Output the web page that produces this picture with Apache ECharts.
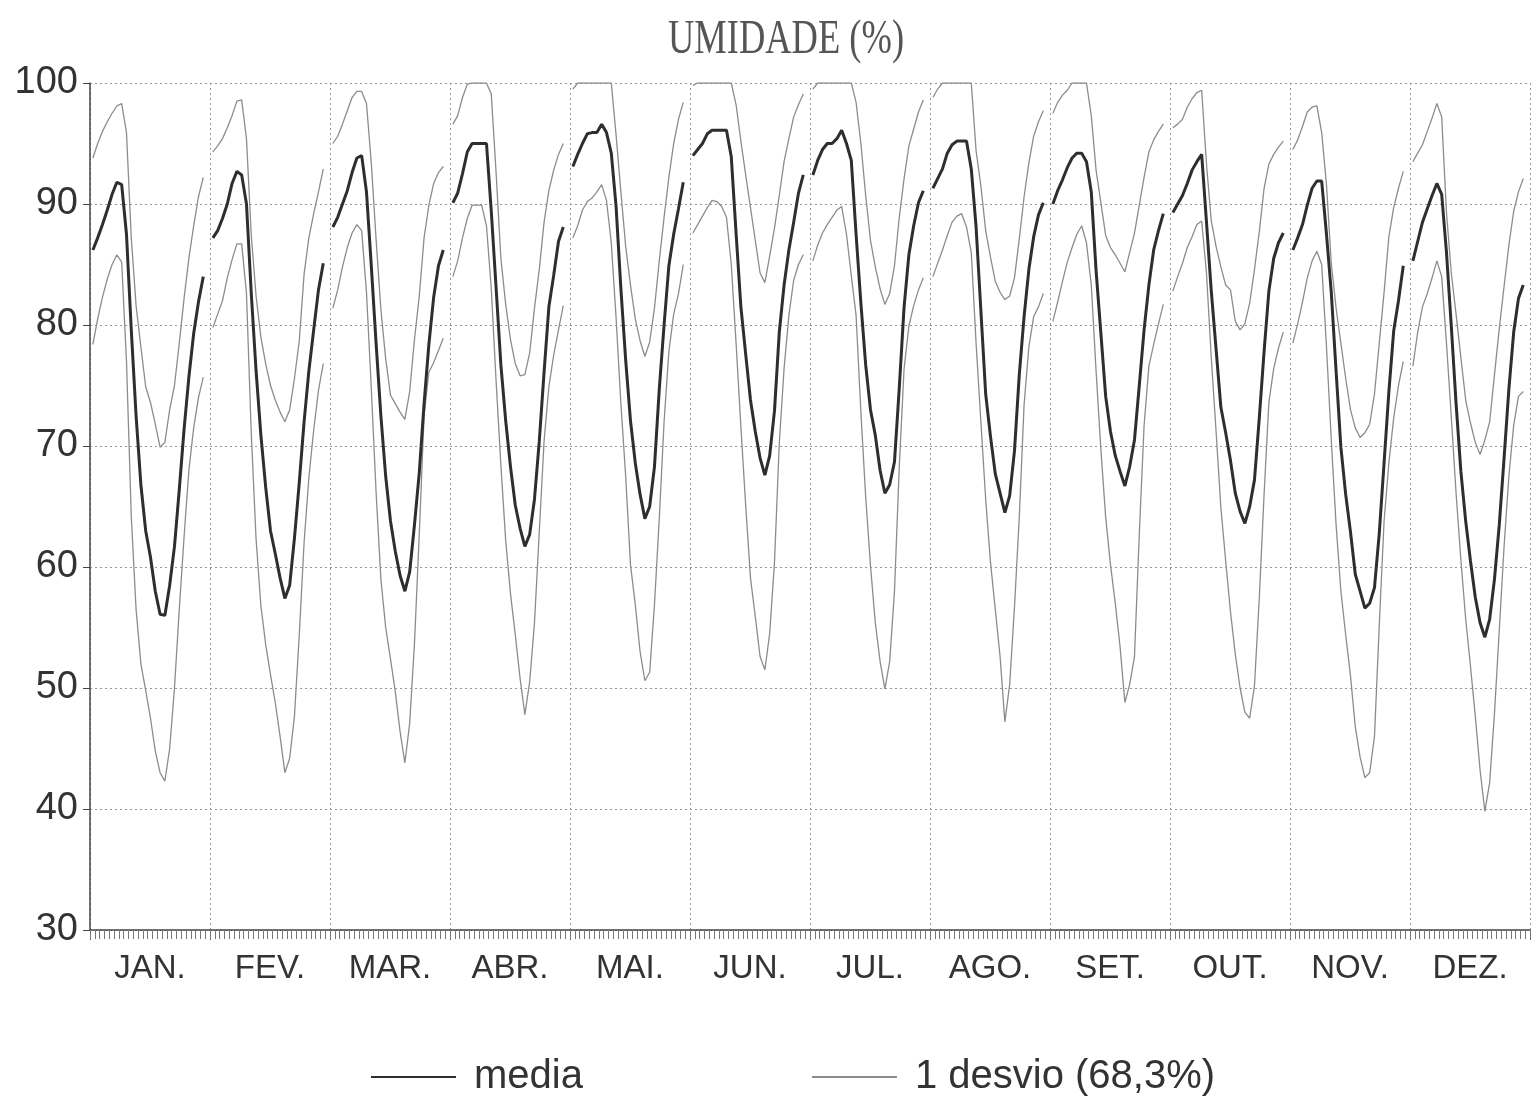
<!DOCTYPE html>
<html>
<head>
<meta charset="utf-8">
<title>UMIDADE (%)</title>
<script src="https://cdn.jsdelivr.net/npm/echarts@6/dist/echarts.min.js"></script>
<style>
  html, body { margin: 0; padding: 0; background: #fff; }
  #chart { width: 1536px; height: 1098px; }
</style>
</head>
<body>
<div id="chart"></div>
<script>
  // meses (cada mes = ciclo diario de 24 horas)
  const meses = ['JAN.', 'FEV.', 'MAR.', 'ABR.', 'MAI.', 'JUN.', 'JUL.', 'AGO.', 'SET.', 'OUT.', 'NOV.', 'DEZ.']

  // umidade media, hora 0..23 de cada mes
  const media = [
    86.2,87.2,88.3,89.5,90.8,91.8,91.6,87.5,79.6,72.5,66.8,63,60.8,58,56.1,56,58.5,61.7,66.4,71.4,75.7,79.3,81.9,84,
    87.2,87.8,88.8,90,91.7,92.7,92.4,90,82.6,76.2,70.9,66.6,63,61.1,59.1,57.4,58.5,62.4,67,72,76.2,79.6,82.9,85.1,
    88.1,88.9,90,91.1,92.6,93.8,94,91,84.9,78.5,72.5,67.5,63.8,61.3,59.3,58,59.6,63.5,67.8,73.5,78.4,82.3,84.9,86.2,
    90.1,90.9,92.5,94.3,95,95,95,95,89.4,83.1,76.7,72.1,68.3,65.1,63.2,61.7,62.7,65.6,70.4,76.1,81.5,84.1,86.9,88.1,
    93.1,94.1,95,95.8,95.9,95.9,96.6,95.9,94.2,89.8,83,77.1,72.1,68.6,66,64,65,68.3,74.7,80,84.9,87.5,89.6,91.8,
    94,94.5,95,95.8,96.1,96.1,96.1,96.1,93.9,87.6,81.5,77.6,73.8,71.2,69,67.6,69.2,72.9,79.4,83.3,86.2,88.5,90.9,92.4,
    92.4,93.6,94.5,95,95,95.4,96.1,95,93.6,87.5,81.8,76.7,73,70.9,68,66.1,66.8,68.7,74.8,81.5,85.8,88.2,90.1,91.1,
    91.3,92.1,92.9,94.2,94.9,95.2,95.2,95.2,92.9,88.1,81.2,74.3,70.8,67.7,66.1,64.5,65.9,69.6,75.9,80.7,84.6,87.3,89.1,90.1,
    90,91.1,92,93,93.8,94.2,94.2,93.5,91,84.5,79.3,74.1,71.2,69.2,67.9,66.7,68.3,70.5,75,79.6,83.3,86.2,87.8,89.2,
    89.3,90,90.7,91.7,92.8,93.5,94.1,88.5,82.8,78,73.2,71.1,68.8,66.1,64.6,63.6,65,67.2,72.3,77.8,82.8,85.5,86.8,87.6,
    86.2,87.2,88.3,89.9,91.3,91.9,91.9,87.5,82.7,76.2,69.9,66,62.9,59.4,58,56.6,57,58.3,62.8,68.6,74.5,79.5,82,84.9,
    85.3,86.9,88.5,89.6,90.7,91.7,90.8,86,79.9,73.5,67.9,63.8,60.5,57.5,55.4,54.2,55.7,59,63.5,69,74.7,79.4,82.2,83.3
  ]

  // media + 1 desvio
  const desvioSup = [
    93.8,95,96,96.8,97.5,98.1,98.3,95.9,87.2,81.6,78.2,74.9,73.6,71.8,69.9,70.3,73,75,78.5,82.2,85.5,88.2,90.6,92.2,
    94.3,94.8,95.4,96.3,97.3,98.5,98.6,95.4,87.4,82.4,79,76.8,75,73.8,72.8,72,73,75.6,78.7,84.2,87.2,89.2,91,92.9,
    95,95.6,96.6,97.7,98.8,99.3,99.3,98.3,93.4,87.1,81.3,77.2,74.2,73.5,72.8,72.2,74.5,78.8,82.4,87.2,89.9,91.7,92.6,93.1,
    96.6,97.3,98.8,99.9,100,100,100,100,99.1,92.6,85.5,81.7,78.8,76.8,75.8,75.9,77.7,81.4,84.6,88.5,91.1,92.8,94.1,95,
    99.5,100,100,100,100,100,100,100,100,95.7,91,86.5,83.3,80.5,78.7,77.4,78.6,81.4,85.3,88.9,92.2,95,97,98.4,
    99.8,100,100,100,100,100,100,100,100,98.2,95.2,92.4,89.7,87,84.3,83.5,85.7,88,90.7,93.5,95.4,97.2,98.2,99.1,
    99.5,100,100,100,100,100,100,100,100,98.4,95,90.7,87,84.8,83,81.7,82.6,84.9,88.9,92.1,94.8,96.2,97.6,98.6,
    98.8,99.5,100,100,100,100,100,100,100,94.4,91.5,87.8,85.6,83.6,82.7,82.1,82.4,83.9,87.1,90.6,93.4,95.6,96.8,97.7,
    97.5,98.4,99,99.4,100,100,100,100,97.3,92.8,90.1,87.4,86.4,85.8,85.1,84.4,86,87.6,89.9,92.2,94.3,95.3,96,96.6,
    96.3,96.6,97,98,98.7,99.2,99.4,93.3,88.6,86.5,84.8,83.3,82.9,80.3,79.6,80.1,81.8,84.6,87.7,91.3,93.3,94.1,94.7,95.2,
    94.5,95.3,96.4,97.6,98,98.1,95.9,91.6,85.1,81.4,78.5,75.6,73,71.5,70.7,71.1,71.8,74.3,78.5,82.7,87.3,89.7,91.3,92.7,
    93.5,94.2,94.9,96,97.1,98.3,97.2,89.3,84.3,80.9,77.3,73.8,71.9,70.3,69.3,70.5,72,75.9,79.7,83.2,86.6,89.4,91,92.1
  ]

  // media - 1 desvio
  const desvioInf = [
    78.4,80.5,82.3,83.8,85,85.8,85.2,77,64.2,56.5,52,49.8,47.5,44.8,43,42.3,45,50,56.5,62.5,68,71.5,74,75.7,
    79.8,80.9,82,83.9,85.4,86.7,86.7,82.6,71,62.3,56.8,53.6,51.1,48.8,46,43,44.2,47.7,54.4,62,67.4,71.3,74.6,76.8,
    81.4,82.9,84.8,86.4,87.6,88.3,87.8,82.7,74.8,66.2,59,55,52.4,49.7,46.4,43.8,47.1,53.7,62.7,72.5,76.1,76.9,77.9,78.9,
    84,85.3,87.2,88.8,89.9,89.9,89.9,88.2,83,75.4,68.4,62.2,57.8,54.4,50.8,47.8,50.5,55.4,62.9,70.4,74.9,77.5,79.6,81.6,
    87.2,88.2,89.5,90.2,90.5,91,91.6,90.3,86.8,80.6,73.5,67.5,60.2,56.9,53,50.6,51.3,56.9,64,72,77.8,80.9,82.6,85,
    87.6,88.3,89,89.7,90.3,90.2,89.8,88.9,85,78.5,71.6,65.1,59.1,55.9,52.6,51.5,54.5,60.4,70.2,76.4,80.8,83.7,85,85.8,
    85.3,86.6,87.6,88.3,88.9,89.5,89.8,87.5,84.1,80.8,72.8,65.8,60.1,55.4,52.2,49.9,52.2,58,68.3,76.4,79.9,81.6,82.9,83.9,
    84,85.1,86.2,87.4,88.5,89,89.2,88.1,86,78.5,72,65.6,60.4,56.5,52.6,47.2,50.3,56.7,64.1,73.4,78.2,80.7,81.5,82.6,
    80.3,81.9,83.6,85.2,86.4,87.5,88.2,86.8,83.3,76.2,69.7,64.1,60.2,57,53.4,48.8,50.3,52.6,62.7,71.7,76.6,78.4,80.1,81.7,
    82.8,84,85.1,86.4,87.3,88.3,88.6,84.3,77.3,71.2,64.9,60.5,56.3,52.8,50,48,47.5,50.2,57.4,66,73.6,76.4,78.1,79.4,
    78.5,80.1,81.9,83.9,85.3,86.1,85,78.2,70.5,63.5,58,54.4,51,46.8,44.3,42.6,43,46,55.2,63.8,68.6,72.3,75,77,
    76.6,79.4,81.5,82.6,83.9,85.3,84,78.5,72.4,66.1,60.6,55.7,51.8,47.7,43.2,39.8,42.2,47.9,54.8,61.7,67.5,71.7,74.1,74.5
  ]

  const horasPorMes = 24
  const passoMes = 25 // 24 horas + 1 de intervalo entre meses

  // monta pares [x, y], quebrando a linha entre um mes e outro
  function montaSerie(valores) {
    const pts = []
    for (let m = 0; m < meses.length; m++) {
      for (let h = 0; h < horasPorMes; h++) {
        pts.push([m * passoMes + 0.6 + h, valores[m * horasPorMes + h]])
      }
      pts.push([m * passoMes + 24.6, null])
    }
    return pts
  }

  const fonte = "'Liberation Sans', Arial, sans-serif"
  const chart = echarts.init(document.getElementById('chart'))

  const option = {
    backgroundColor: '#fff',
    animation: false,
    graphic: [{
      type: 'text',
      x: 668,
      y: 16,
      scaleX: 0.76,
      style: {
        text: 'UMIDADE (%)',
        font: "48px 'Liberation Serif', serif",
        fill: '#555',
        textAlign: 'left',
        textVerticalAlign: 'top'
      }
    }],
    grid: {
      left: 90,
      right: 6,
      top: 83,
      bottom: 168
    },
    legend: {
      left: 370,
      top: 1057,
      padding: 0,
      itemWidth: 85,
      itemHeight: 2,
      itemGap: 228,
      textStyle: {
        fontFamily: fonte,
        fontSize: 40,
        color: '#333',
        padding: [0, 0, 0, 13]
      },
      data: ['media', '1 desvio (68,3%)']
    },
    xAxis: [
      {
        // meses: linhas verticais pontilhadas
        type: 'value',
        position: 'bottom',
        min: 0,
        max: meses.length * passoMes,
        interval: passoMes,
        axisLine: { show: true, lineStyle: { color: '#444', width: 1.5 } },
        axisTick: { show: true, length: 10, lineStyle: { color: '#555' } },
        axisLabel: { show: false },
        splitLine: { show: true, lineStyle: { color: '#999', type: [2, 3], width: 1 } }
      },
      {
        type: 'category',
        position: 'bottom',
        data: meses,
        boundaryGap: true,
        axisLine: { show: false },
        axisTick: { show: false },
        splitLine: { show: false },
        axisLabel: { fontFamily: fonte, fontSize: 33, color: '#333', margin: 22 }
      },
      {
        // marcas horarias ao longo do eixo
        type: 'value',
        position: 'bottom',
        min: 0,
        max: meses.length * passoMes,
        interval: 1,
        axisLine: { show: false },
        axisTick: { show: true, length: 9, lineStyle: { color: '#777', width: 1 } },
        axisLabel: { show: false },
        splitLine: { show: false }
      }
    ],
    yAxis: {
      type: 'value',
      min: 30,
      max: 100,
      interval: 10,
      axisLine: { show: true, lineStyle: { color: '#444', width: 1.5 } },
      axisTick: { show: true, length: 7, lineStyle: { color: '#444' } },
      axisLabel: { fontFamily: fonte, fontSize: 38, color: '#333', margin: 12 },
      splitLine: { show: true, lineStyle: { color: '#999', type: [2, 3], width: 1 } }
    },
    series: [
      {
        name: '1 desvio (68,3%)',
        type: 'line',
        xAxisIndex: 0,
        data: montaSerie(desvioSup),
        symbol: 'none',
        lineStyle: { color: '#8c8c8c', width: 1.3 },
        itemStyle: { color: '#8c8c8c' }
      },
      {
        name: '1 desvio (68,3%)',
        type: 'line',
        xAxisIndex: 0,
        data: montaSerie(desvioInf),
        symbol: 'none',
        lineStyle: { color: '#8c8c8c', width: 1.3 },
        itemStyle: { color: '#8c8c8c' }
      },
      {
        name: 'media',
        type: 'line',
        xAxisIndex: 0,
        data: montaSerie(media),
        symbol: 'none',
        lineStyle: { color: '#2e2e2e', width: 3 },
        itemStyle: { color: '#2e2e2e' }
      }
    ]
  }

  chart.setOption(option)
</script>
</body>
</html>
